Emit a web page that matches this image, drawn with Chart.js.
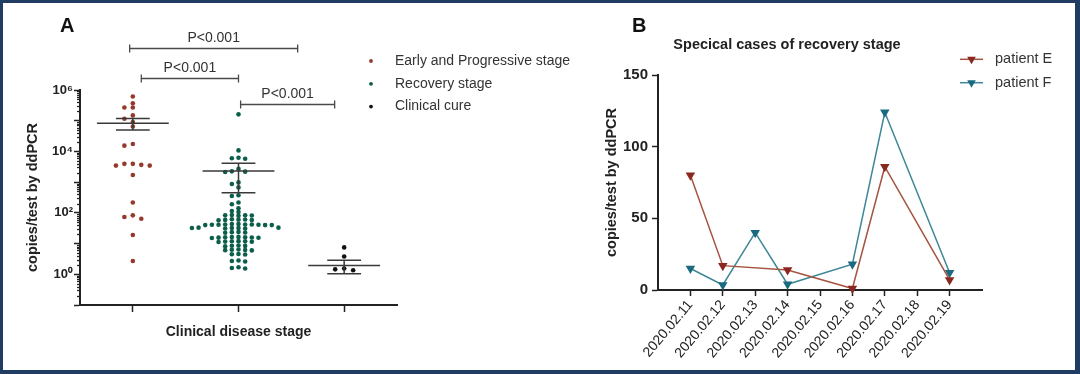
<!DOCTYPE html>
<html>
<head>
<meta charset="utf-8">
<script src="https://cdn.jsdelivr.net/npm/chart.js@4.4.1/dist/chart.umd.min.js"></script>
<style>
html, body { margin: 0; padding: 0; background: #fff; }
#wrap { position: relative; width: 1080px; height: 374px; overflow: hidden; background: #fff; }
#frame { position: absolute; left: 0; top: 0; width: 1080px; height: 374px; box-sizing: border-box;
  border-style: solid; border-color: #213c62; border-width: 3px 5px 4px 3px; pointer-events: none; }
#boxA { position: absolute; left: 0; top: 0; width: 600px; height: 374px; }
#boxB { position: absolute; left: 580px; top: 0; width: 497px; height: 374px; }
</style>
</head>
<body>
<div id="wrap">
  <div id="boxA"><canvas id="chartA"></canvas></div>
  <div id="boxB"><canvas id="chartB"></canvas></div>
  <div id="frame"></div>
</div>
<script>
// panel A - viral load per stage (copies/test)
var stageNames = ['Early and Progressive stage', 'Recovery stage', 'Clinical cure']
var earlyValues = [615000, 372000, 268000, 268000, 149000, 116000, 90000, 65000, 17500, 15400,
  3940, 3940, 3650, 3460, 3460, 1710, 217, 83, 73, 64, 19, 2.7]
var recoveryValues = [161000, 10800, 6200, 6000, 5800, 2700, 2250, 2200, 2150, 980, 870, 675,
  376, 355, 217, 190, 140, 115, 106,
  85, 84, 83, 82, 80,
  62, 61, 60, 59, 58, 57,
  43, 43, 42, 42, 42, 41, 41, 41, 40, 40, 40,
  33, 33, 32, 32, 32, 31, 31,
  24, 23.5, 23, 22.5,
  16.5, 16.3, 16, 16, 15.8, 15.6, 15.4, 15.2,
  12, 11.9, 11.8, 11.6, 11.5, 11.3,
  8.7, 8.5, 8.4, 8.2,
  6.4, 6.3, 6.2, 6.1, 6,
  4.6, 4.5, 4.4,
  2.8, 2.7, 2.6,
  1.7, 1.6, 1.55]
var cureValues = [7.5, 3.8, 1.55, 1.35, 1.45]
var stageMeans = [83000, 2300, 1.95]
var stageSemLow = [49500, 450, 1.05]
var stageSemHigh = [118000, 4150, 2.85]
var pairFrom = [-0.03, 0.08, 1.02]
var pairTo = [1.56, 1.0, 1.91]
var pairY = [2.3e7, 2.4e6, 3.4e5]
var pairText = ['P<0.001', 'P<0.001', 'P<0.001']
var logTickValues = [1, 100, 10000, 1000000]
var logTickLabels = ['10\u2070', '10\u00b2', '10\u2074', '10\u2076']

// panel B - two patients in recovery
var dates = ['2020.02.11', '2020.02.12', '2020.02.13', '2020.02.14', '2020.02.15',
  '2020.02.16', '2020.02.17', '2020.02.18', '2020.02.19']
var patientE = [80, 17, null, 14, null, 1, 86, null, 7]
var patientF = [15, 3.5, 40, 4, null, 18, 124, null, 12]
var countTicks = [0, 50, 100, 150]

Chart.defaults.font.family = '"Liberation Sans", Arial, sans-serif'
Chart.defaults.color = '#222'

var FONT = '"Liberation Sans", Arial, sans-serif'
var AXIS = '#222'

function isDecade(v) {
    var l = Math.log10(v)
    return Math.abs(l - Math.round(l)) < 1e-9
}

// simple beeswarm: dots go to the free slot nearest the centre
function swarm(values, center, gapX, gapY) {
    var placed = []
    return values.slice().sort(function (a, b) { return b - a }).map(function (v) {
        var ly = Math.log10(v)
        for (var k = 0; ; k++) {
            var slot = k === 0 ? 0 : (k % 2 ? -(k + 1) / 2 : k / 2)
            var hit = placed.some(function (p) { return p.slot === slot && Math.abs(p.ly - ly) < gapY })
            if (!hit) {
                placed.push({ slot: slot, ly: ly })
                return { x: center + slot * gapX, y: v }
            }
        }
    })
}

var logTicks = []
for (var e = -1; e < 6; e++) {
    for (var m = 1; m < 10; m++) logTicks.push(+(m * Math.pow(10, e)).toPrecision(3))
}
logTicks.push(1000000)

var pageText = {
    id: 'pageText',
    afterDraw: function (chart, args, opts) {
        var ctx = chart.ctx
        ctx.save()
        ;(opts.items || []).forEach(function (it) {
            ctx.font = it.font
            ctx.fillStyle = it.color || '#222'
            ctx.textAlign = it.align || 'left'
            ctx.textBaseline = 'alphabetic'
            ctx.fillText(it.text, it.x, it.y)
        })
        ctx.restore()
    }
}

var sideLegend = {
    id: 'sideLegend',
    afterDraw: function (chart, args, opts) {
        if (!opts.x) return
        var ctx = chart.ctx
        ctx.save()
        ctx.font = opts.font
        ctx.textBaseline = 'middle'
        chart.data.datasets.forEach(function (ds, i) {
            var y = opts.y + i * opts.rowGap
            if (opts.lineLength) {
                ctx.strokeStyle = ds.borderColor
                ctx.lineWidth = 1.5
                ctx.beginPath()
                ctx.moveTo(opts.x - opts.lineLength / 2, y)
                ctx.lineTo(opts.x + opts.lineLength / 2, y)
                ctx.stroke()
            }
            ctx.fillStyle = ds.pointBackgroundColor
            Chart.helpers.drawPoint(ctx, { pointStyle: ds.pointStyle, rotation: ds.pointRotation || 0, radius: opts.radius, borderWidth: 0 }, opts.x, y)
            ctx.fillStyle = opts.color
            ctx.textAlign = 'left'
            ctx.fillText(ds.label, opts.textX, y)
        })
        ctx.restore()
    }
}

var minorTicks = {
    id: 'minorTicks',
    afterDraw: function (chart, args, opts) {
        if (!opts.length) return
        var sc = chart.scales.y, ctx = chart.ctx
        ctx.save()
        ctx.strokeStyle = AXIS
        ctx.lineWidth = 1.3
        sc.ticks.forEach(function (t) {
            if (isDecade(t.value)) return
            var y = Math.round(sc.getPixelForValue(t.value)) + 0.5
            ctx.beginPath()
            ctx.moveTo(sc.right - opts.length, y)
            ctx.lineTo(sc.right, y)
            ctx.stroke()
        })
        ctx.restore()
    }
}

// mean +/- SEM and the significance brackets
var stageMarks = {
    id: 'stageMarks',
    afterDatasetsDraw: function (chart) {
        var xs = chart.scales.x, ys = chart.scales.y, ctx = chart.ctx
        ctx.save()
        ctx.strokeStyle = '#3a3a3a'
        ctx.lineWidth = 1.5
        stageMeans.forEach(function (mean, i) {
            var cx = xs.getPixelForValue(i)
            var half = xs.getPixelForValue(i + 0.34) - cx
            var cap = xs.getPixelForValue(i + 0.16) - cx
            var ym = ys.getPixelForValue(mean)
            var yl = ys.getPixelForValue(stageSemLow[i])
            var yh = ys.getPixelForValue(stageSemHigh[i])
            ctx.beginPath()
            ctx.moveTo(cx - half, ym); ctx.lineTo(cx + half, ym)
            ctx.moveTo(cx - cap, yh); ctx.lineTo(cx + cap, yh)
            ctx.moveTo(cx - cap, yl); ctx.lineTo(cx + cap, yl)
            ctx.moveTo(cx, yh); ctx.lineTo(cx, yl)
            ctx.stroke()
        })
        ctx.strokeStyle = '#4a4a4a'
        ctx.lineWidth = 1.3
        ctx.fillStyle = '#333'
        ctx.font = '14px ' + FONT
        ctx.textAlign = 'center'
        ctx.textBaseline = 'alphabetic'
        pairText.forEach(function (t, i) {
            var x1 = xs.getPixelForValue(pairFrom[i])
            var x2 = xs.getPixelForValue(pairTo[i])
            var y = Math.round(ys.getPixelForValue(pairY[i])) + 0.5
            ctx.beginPath()
            ctx.moveTo(x1, y); ctx.lineTo(x2, y)
            ctx.moveTo(x1, y - 4); ctx.lineTo(x1, y + 4)
            ctx.moveTo(x2, y - 4); ctx.lineTo(x2, y + 4)
            ctx.stroke()
            ctx.fillText(t, (x1 + x2) / 2, y - 7)
        })
        ctx.restore()
    }
}

var dotColors = ['#94392c', '#0c5e4b', '#111111']
var dotGapX = [0.08, 0.063, 0.085]
var groups = [earlyValues, recoveryValues, cureValues]

new Chart(document.getElementById('chartA'), {
    type: 'scatter',
    data: {
        datasets: groups.map(function (vals, i) {
            return {
                label: stageNames[i],
                data: swarm(vals, i, dotGapX[i], 0.12),
                pointStyle: 'circle',
                pointRadius: 2.3,
                pointBorderWidth: 0,
                pointBackgroundColor: dotColors[i],
                pointBorderColor: dotColors[i]
            }
        })
    },
    options: {
        responsive: true,
        maintainAspectRatio: false,
        animation: false,
        events: [],
        layout: { padding: { left: 0, top: 90, right: 203, bottom: 0 } },
        scales: {
            x: {
                type: 'linear',
                min: -0.5,
                max: 2.5,
                afterBuildTicks: function (axis) { axis.ticks = stageNames.map(function (n, i) { return { value: i } }) },
                afterFit: function (scale) { scale.height = 69 },
                ticks: { display: false },
                grid: { drawOnChartArea: false, tickLength: 7, tickColor: AXIS, tickWidth: 1.5 },
                border: { color: AXIS, width: 2 },
                title: { display: true, text: 'Clinical disease stage', color: '#222',
                    font: { size: 14, weight: 'bold' }, padding: { top: 0, bottom: 33.6 } }
            },
            y: {
                type: 'logarithmic',
                min: 0.1,
                max: 1000000,
                afterBuildTicks: function (axis) { axis.ticks = logTicks.map(function (v) { return { value: v } }) },
                afterFit: function (scale) { scale.width = 80 },
                ticks: {
                    autoSkip: false,
                    padding: 1,
                    color: '#222',
                    font: { size: 13, weight: 'bold' },
                    callback: function (v) {
                        var k = logTickValues.indexOf(v)
                        return k < 0 ? '' : logTickLabels[k]
                    }
                },
                grid: {
                    drawOnChartArea: false, tickLength: 6, tickWidth: 1.5,
                    tickColor: function (c) { return c.tick && isDecade(c.tick.value) ? AXIS : 'rgba(0,0,0,0)' }
                },
                border: { color: AXIS, width: 2 },
                title: { display: true, text: 'copies/test by ddPCR', color: '#222',
                    font: { size: 14.5, weight: 'bold' }, padding: { top: 24.3, bottom: 0 } }
            }
        },
        plugins: {
            legend: { display: false },
            tooltip: { enabled: false },
            minorTicks: { length: 3 },
            sideLegend: { x: 371, y: 61, rowGap: 22.8, textX: 395, radius: 1.9, color: '#333', font: '14px ' + FONT },
            pageText: { items: [{ text: 'A', x: 60, y: 32, font: 'bold 20px ' + FONT, color: '#111' }] }
        }
    },
    plugins: [stageMarks, minorTicks, sideLegend, pageText]
})

function points(vals) {
    return dates.map(function (d, i) { return { x: i, y: vals[i] } })
        .filter(function (p) { return p.y !== null })
}

var lineColors = ['#a4533f', '#3f8796']
var markerColors = ['#8a2820', '#1b6a80']

new Chart(document.getElementById('chartB'), {
    type: 'line',
    data: {
        datasets: [patientE, patientF].map(function (vals, i) {
            return {
                label: i === 0 ? 'patient E' : 'patient F',
                data: points(vals),
                borderColor: lineColors[i],
                borderWidth: 1.5,
                tension: 0,
                fill: false,
                clip: false,
                pointStyle: 'triangle',
                pointRotation: 180,
                pointRadius: 5.5,
                pointBorderWidth: 0,
                pointBackgroundColor: markerColors[i],
                pointBorderColor: markerColors[i]
            }
        })
    },
    options: {
        responsive: true,
        maintainAspectRatio: false,
        animation: false,
        events: [],
        layout: { padding: { left: 0, top: 75, right: 95, bottom: 0 } },
        scales: {
            x: {
                type: 'linear',
                min: -1,
                max: 9,
                afterBuildTicks: function (axis) { axis.ticks = dates.map(function (d, i) { return { value: i } }) },
                afterFit: function (scale) { scale.height = 84 },
                ticks: {
                    autoSkip: false,
                    minRotation: 50,
                    maxRotation: 50,
                    padding: 1,
                    color: '#222',
                    font: { size: 14 },
                    callback: function (v) { return dates[v] }
                },
                grid: { drawOnChartArea: false, tickLength: 6, tickColor: AXIS, tickWidth: 1.5 },
                border: { color: AXIS, width: 2 }
            },
            y: {
                type: 'linear',
                min: 0,
                max: 150,
                afterBuildTicks: function (axis) { axis.ticks = countTicks.map(function (v) { return { value: v } }) },
                afterFit: function (scale) { scale.width = 78 },
                ticks: { padding: 4, color: '#222', font: { size: 15, weight: 'bold' } },
                grid: { drawOnChartArea: false, tickLength: 6, tickColor: AXIS, tickWidth: 1.5 },
                border: { color: AXIS, width: 2 },
                title: { display: true, text: 'copies/test by ddPCR', color: '#222',
                    font: { size: 14.5, weight: 'bold' }, padding: { top: 23.3, bottom: 0 } }
            }
        },
        plugins: {
            legend: { display: false },
            tooltip: { enabled: false },
            sideLegend: { x: 391.5, y: 59.3, rowGap: 23.4, lineLength: 23, textX: 415, radius: 5, color: '#333', font: '14.5px ' + FONT },
            pageText: { items: [
                { text: 'B', x: 52, y: 32, font: 'bold 20px ' + FONT, color: '#111' },
                { text: 'Specical cases of recovery stage', x: 207, y: 49, align: 'center', font: 'bold 14.5px ' + FONT, color: '#222' }
            ] }
        }
    },
    plugins: [sideLegend, pageText]
})
</script>
</body>
</html>
